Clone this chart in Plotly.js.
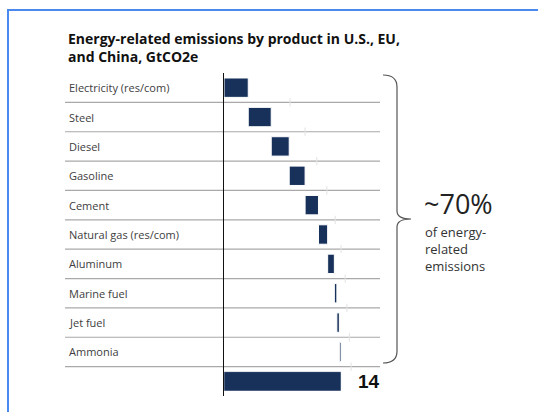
<!DOCTYPE html>
<html>
<head>
<meta charset="utf-8">
<script src="https://cdn.plot.ly/plotly-3.0.1.min.js"></script>
<style>
  html, body { margin: 0; padding: 0; background: #fff; }
  #wrap { position: relative; width: 538px; height: 412px; overflow: hidden; }
  #chart { width: 538px; height: 412px; }
  #frame { position: absolute; left: 7px; top: 9px; width: 600px; height: 500px;
           border-left: 2.5px solid #4a8af0; border-top: 2.5px solid #4a8af0;
           pointer-events: none; box-sizing: border-box; }
</style>
</head>
<body>
<div id="wrap"><div id="chart"></div><div id="frame"></div></div>
<script>
// ---- data ----
const categories = ["Electricity (res/com)", "Steel", "Diesel", "Gasoline", "Cement",
  "Natural gas (res/com)", "Aluminum", "Marine fuel", "Jet fuel", "Ammonia"];
const emissions = [2.9, 2.75, 2.15, 1.9, 1.6, 1.1, 0.8, 0.3, 0.3, 0.2]; // GtCO2e
const totalLabel = "Total";
const totalText = "14";
const ghostMarks = [7.9, 9.7, 11.1, 12.3, 13.3, 14.0, 14.5, 14.7, 15.0, 15.2];
const titleText = "Energy-related emissions by product in U.S., EU,<br>and China, GtCO2e";
const shareText = "~70%";
const shareNote = "of energy-<br>related<br>emissions";

// ---- layout geometry ----
const W = 538, H = 412;
const L = 224, R = 380, T = 73, B = 396;
const pxPerUnit = 8.36;
const px = x => (x - L) / (R - L);
const py = y => (B - y) / (B - T);

const yCats = categories.concat([totalLabel]);
const xVals = emissions.concat([0]);
const measures = emissions.map(() => "relative").concat(["total"]);

const barColor = "#17315a";
const font = "'Open Sans', 'Noto Sans', sans-serif";

const trace = {
  type: "waterfall",
  orientation: "h",
  y: yCats,
  x: xVals,
  measure: measures,
  connector: { visible: false },
  increasing: { marker: { color: barColor, line: { color: "#ffffff", width: 1.0 } } },
  totals: { marker: { color: barColor, line: { color: "#ffffff", width: 0.5 } } },
  hoverinfo: "x+y",
  textinfo: "none"
};

const shapes = [];
// row separators
for (let i = 0; i < categories.length; i++) {
  shapes.push({ type: "line", xref: "paper", yref: "y", x0: px(65), x1: 1,
    y0: i + 0.5, y1: i + 0.5, line: { color: "#a9a9a9", width: 1.2 }, layer: "below" });
}
// faint ghost marks
ghostMarks.forEach((g, i) => {
  shapes.push({ type: "line", xref: "x", yref: "y", x0: g, x1: g,
    y0: i + 0.5 - 0.14, y1: i + 0.5 + 0.14, line: { color: "#e4e4e4", width: 1.1 }, layer: "below" });
});
// brace
const bp = [[383,75],[397,75],[397,87],[397,211],[397,219],[411,219],[397,219],[397,227],[397,351],[397,363],[383,363]];
const P = i => px(bp[i][0]) + "," + py(bp[i][1]);
const bracePath = "M" + P(0) + " Q" + P(1) + " " + P(2) + " L" + P(3) + " Q" + P(4) + " " + P(5) +
  " Q" + P(6) + " " + P(7) + " L" + P(8) + " Q" + P(9) + " " + P(10);
shapes.push({ type: "path", xref: "paper", yref: "paper", path: bracePath,
  line: { color: "#555555", width: 1.2 } });

const annotations = categories.map(c => ({
  xref: "paper", yref: "y", x: px(67), y: c, xanchor: "left", yanchor: "middle",
  text: c, showarrow: false, font: { family: font, size: 11, color: "#404040" }
}));
annotations.push({
  xref: "x", yref: "y", x: emissions.reduce((a, b) => a + b, 0), y: totalLabel,
  xanchor: "left", yanchor: "middle", xshift: 15, text: "<b>" + totalText + "</b>",
  showarrow: false, font: { family: "'Liberation Sans', Arial, sans-serif", size: 19, color: "#111" }
});
annotations.push({
  xref: "paper", yref: "paper", x: px(422), y: py(203), xanchor: "left", yanchor: "middle",
  text: shareText, showarrow: false, font: { family: font, size: 27, color: "#222" }
});
annotations.push({
  xref: "paper", yref: "paper", x: px(423), y: py(221), xanchor: "left", yanchor: "top",
  align: "left", text: shareNote, showarrow: false, font: { family: font, size: 13, color: "#333" }
});
annotations.push({
  xref: "paper", yref: "paper", x: px(66), y: py(27), xanchor: "left", yanchor: "top",
  align: "left", text: "<b>" + titleText + "</b>", showarrow: false,
  font: { family: font, size: 14, color: "#111" }
});

const layout = {
  width: W, height: H,
  margin: { l: L, r: W - R, t: T, b: H - B, pad: 0 },
  paper_bgcolor: "#fff", plot_bgcolor: "#fff",
  showlegend: false,
  waterfallgap: 0.34,
  xaxis: { range: [0, (R - L) / pxPerUnit], showgrid: false, zeroline: false,
    showticklabels: false, ticks: "", showline: false, fixedrange: true },
  yaxis: { type: "category", range: [yCats.length - 0.5, -0.5], showgrid: false,
    showticklabels: false, ticks: "", showline: true, linecolor: "#111", linewidth: 1.5,
    zeroline: false, fixedrange: true },
  shapes: shapes,
  annotations: annotations
};

Plotly.newPlot("chart", [trace], layout, { displayModeBar: false, staticPlot: true });
</script>
</body>
</html>
